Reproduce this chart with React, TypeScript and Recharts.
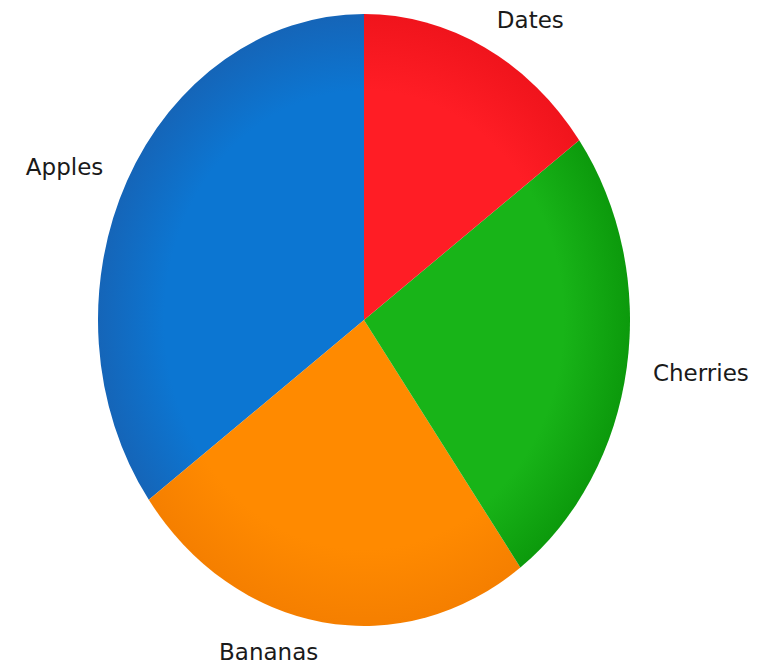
import { Cell, Pie, PieChart } from "recharts";

const fruits = ["Apples", "Bananas", "Cherries", "Dates"];
const shares = [35, 25, 25, 15];
const sliceColors = ["#0c76d2", "#ff8a00", "#18b418", "#ff1d25"];
const edgeColors = ["#1565b8", "#f57f00", "#0c9a0c", "#f0141c"];

const data = fruits.map((name, i) => ({ name, value: shares[i] }));

// the reference pie is a bit taller than wide
const STRETCH = 1.15;
const RAD = Math.PI / 180;

function EllipseSector(props: any) {
  const { cx, cy, outerRadius, startAngle, endAngle, index } = props;
  const a0 = Math.min(startAngle, endAngle);
  const a1 = Math.max(startAngle, endAngle);
  const rx = outerRadius;
  const ry = outerRadius * STRETCH;
  const x0 = cx + rx * Math.cos(-a0 * RAD);
  const y0 = cy + ry * Math.sin(-a0 * RAD);
  const x1 = cx + rx * Math.cos(-a1 * RAD);
  const y1 = cy + ry * Math.sin(-a1 * RAD);
  const large = a1 - a0 > 180 ? 1 : 0;
  const id = `shade-${index}`;
  return (
    <g>
      <defs>
        <radialGradient
          id={id}
          gradientUnits="userSpaceOnUse"
          cx={cx}
          cy={cy}
          r={rx}
          gradientTransform={`translate(${cx} ${cy}) scale(1 ${STRETCH}) translate(${-cx} ${-cy})`}
        >
          <stop offset="0%" stopColor={sliceColors[index]} />
          <stop offset="75%" stopColor={sliceColors[index]} />
          <stop offset="100%" stopColor={edgeColors[index]} />
        </radialGradient>
      </defs>
      <path
        d={`M ${cx} ${cy} L ${x0} ${y0} A ${rx} ${ry} 0 ${large} 0 ${x1} ${y1} Z`}
        fill={`url(#${id})`}
        stroke="none"
      />
    </g>
  );
}

function SliceLabel(props: any) {
  const { cx, cy, midAngle, outerRadius, name } = props;
  const c = Math.cos(-midAngle * RAD);
  const s = Math.sin(-midAngle * RAD);
  const x = cx + outerRadius * 1.1 * c;
  const y = cy + outerRadius * STRETCH * 1.1 * s;
  return (
    <text
      x={x}
      y={y}
      textAnchor={c >= 0 ? "start" : "end"}
      dominantBaseline="central"
      fill="#1a1a1a"
      fontSize={23}
      fontFamily="DejaVu Sans"
    >
      {name}
    </text>
  );
}

export default function App() {
  return (
    <div style={{ position: "absolute", left: 0, top: 0, background: "#fff" }}>
      <PieChart width={769} height={666} margin={{ top: 0, right: 0, bottom: 0, left: 0 }}>
        <Pie
          data={data}
          dataKey="value"
          nameKey="name"
          cx={364}
          cy={320}
          outerRadius={266}
          startAngle={90}
          endAngle={450}
          shape={EllipseSector}
          label={SliceLabel}
          labelLine={false}
          isAnimationActive={false}
        >
          {data.map((d, i) => (
            <Cell key={d.name} fill={sliceColors[i]} />
          ))}
        </Pie>
      </PieChart>
    </div>
  );
}
